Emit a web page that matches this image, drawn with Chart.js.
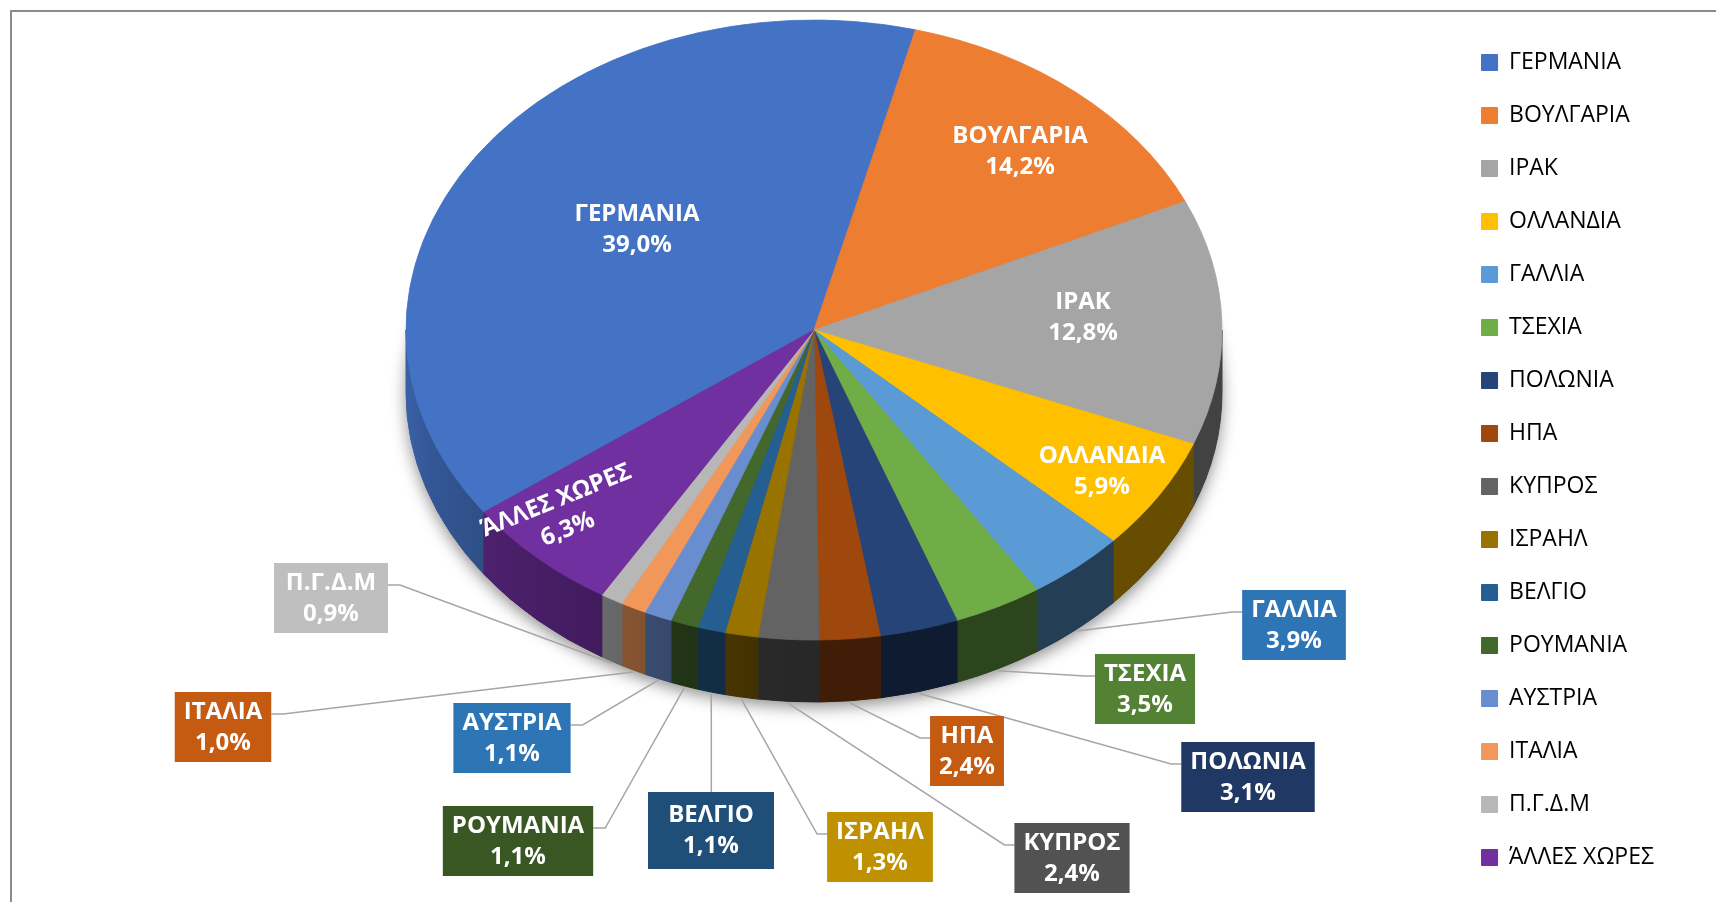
<!DOCTYPE html>
<html lang="el">
<head>
<meta charset="utf-8">
<title>Χώρες</title>
<script src="https://cdn.jsdelivr.net/npm/chart.js@4.4.1/dist/chart.umd.min.js"></script>
<style>
  html, body { margin: 0; padding: 0; background: #fff; }
  #wrap { width: 1716px; height: 902px; }
</style>
</head>
<body>
<div id="wrap"><canvas id="chart" width="1716" height="902"></canvas></div>
<script>
const countries = ['ΓΕΡΜΑΝΙΑ', 'ΒΟΥΛΓΑΡΙΑ', 'ΙΡΑΚ', 'ΟΛΛΑΝΔΙΑ', 'ΓΑΛΛΙΑ', 'ΤΣΕΧΙΑ', 'ΠΟΛΩΝΙΑ', 'ΗΠΑ',
  'ΚΥΠΡΟΣ', 'ΙΣΡΑΗΛ', 'ΒΕΛΓΙΟ', 'ΡΟΥΜΑΝΙΑ', 'ΑΥΣΤΡΙΑ', 'ΙΤΑΛΙΑ', 'Π.Γ.Δ.Μ', 'ΆΛΛΕΣ ΧΩΡΕΣ'];
const shares = [39.0, 14.2, 12.8, 5.9, 3.9, 3.5, 3.1, 2.4, 2.4, 1.3, 1.1, 1.1, 1.1, 1.0, 0.9, 6.3];

const sliceColors = ['#4472C4', '#ED7D31', '#A5A5A5', '#FFC000', '#5B9BD5', '#70AD47', '#264478', '#9E480E',
  '#636363', '#997300', '#255E91', '#43682B', '#698ED0', '#F1975A', '#B7B7B7', '#7030A0'];
const boxColors = [null, null, null, null, '#2E75B6', '#548235', '#203864', '#C55A11',
  '#525252', '#BF9000', '#1F4E79', '#385723', '#2E75B6', '#C55A11', '#BFBFBF', null];

// where each data label sits: text centre inside the slice, or a callout box (centre x, top y, side the leader enters)
const labelSpots = [
  {x: 637, y: 230}, {x: 1020, y: 152}, {x: 1083, y: 318}, {x: 1102, y: 472},
  {box: true, x: 1294, y: 590, side: 'left'},
  {box: true, x: 1145, y: 654, side: 'left'},
  {box: true, x: 1248, y: 742, side: 'left'},
  {box: true, x: 967, y: 716, side: 'left'},
  {box: true, x: 1072, y: 823, side: 'left'},
  {box: true, x: 880, y: 812, side: 'left'},
  {box: true, x: 711, y: 792, side: 'top', w: 126, h: 77},
  {box: true, x: 518, y: 806, side: 'right'},
  {box: true, x: 512, y: 703, side: 'right'},
  {box: true, x: 223, y: 692, side: 'right'},
  {box: true, x: 331, y: 563, side: 'right', w: 114},
  {x: 562, y: 515, rot: -22}
];

// tilted disc
const CX = 814, CY = 330, RX = 408, RY = 310, DEPTH = 62;
const labelFont = 'bold 24px "Open Sans"';

function shade(hex, f) {
  const n = parseInt(hex.slice(1), 16);
  return 'rgb(' + Math.round((n >> 16 & 255) * f) + ',' + Math.round((n >> 8 & 255) * f) + ',' + Math.round((n & 255) * f) + ')';
}

// darker toward the front/right, lighter on the left side
function wallFactor(t) {
  const d = t * 180 / Math.PI;
  if (d <= 95) return 0.4;
  return 0.4 + 0.45 * Math.pow((d - 95) / 85, 0.8);
}

// parts of [s, e] that face the viewer (0..PI in canvas angles)
function frontParts(s, e) {
  const out = [];
  for (let k = -2; k <= 3; k++) {
    const base = 2 * Math.PI * k;
    const lo = Math.max(s, base), hi = Math.min(e, base + Math.PI);
    if (hi > lo) out.push([lo - base, hi - base]);
  }
  return out;
}

function pct(v) {
  return v.toFixed(1).replace('.', ',') + '%';
}

const pie3d = {
  id: 'pie3d',
  beforeDraw(chart) {
    const ctx = chart.ctx;
    ctx.save();
    ctx.strokeStyle = '#8c8c8c';
    ctx.lineWidth = 2;
    ctx.beginPath();
    ctx.moveTo(11, 902);
    ctx.lineTo(11, 11);
    ctx.lineTo(1716, 11);
    ctx.stroke();
    ctx.restore();
  },
  beforeDatasetsDraw(chart) {
    const ctx = chart.ctx;
    const arcs = chart.getDatasetMeta(0).data;

    ctx.save();
    ctx.shadowColor = 'rgba(0,0,0,0.45)';
    ctx.shadowBlur = 16;
    ctx.shadowOffsetY = 5;
    ctx.fillStyle = '#555';
    ctx.beginPath();
    ctx.ellipse(CX, CY + DEPTH, RX, RY, 0, 0, Math.PI * 2);
    ctx.fill();
    ctx.restore();

    arcs.forEach((arc, i) => {
      frontParts(arc.startAngle, arc.endAngle).forEach(([a, b]) => {
        const g = ctx.createLinearGradient(CX - RX, 0, CX + RX, 0);
        for (let k = 0; k <= 36; k++) {
          g.addColorStop(k / 36, shade(sliceColors[i], wallFactor(Math.acos(-1 + 2 * k / 36))));
        }
        ctx.fillStyle = g;
        ctx.strokeStyle = g;
        ctx.lineWidth = 1;
        ctx.beginPath();
        ctx.ellipse(CX, CY, RX, RY, 0, a, b, false);
        ctx.ellipse(CX, CY + DEPTH, RX, RY, 0, b, a, true);
        ctx.closePath();
        ctx.fill();
        ctx.stroke();
      });
    });

    // squash the library's round pie onto the top of the disc
    const {x, y, outerRadius} = arcs[0];
    ctx.save();
    ctx.translate(CX, CY);
    ctx.scale(RX / outerRadius, RY / outerRadius);
    ctx.translate(-x, -y);
  },
  afterDatasetsDraw(chart) {
    const ctx = chart.ctx;
    ctx.restore();
    const arcs = chart.getDatasetMeta(0).data;

    ctx.save();
    ctx.font = labelFont;
    ctx.textAlign = 'center';
    ctx.textBaseline = 'middle';
    arcs.forEach((arc, i) => {
      const spot = labelSpots[i];
      const line1 = countries[i], line2 = pct(shares[i]);
      if (!spot.box) {
        ctx.fillStyle = '#fff';
        ctx.save();
        ctx.translate(spot.x, spot.y);
        if (spot.rot) ctx.rotate(spot.rot * Math.PI / 180);
        ctx.fillText(line1, 0, -15.5);
        ctx.fillText(line2, 0, 15.5);
        ctx.restore();
        return;
      }
      const w = spot.w || Math.max(ctx.measureText(line1).width, ctx.measureText(line2).width) + 18;
      const h = spot.h || 70;
      const left = spot.x - w / 2, top = spot.y;
      const mid = (arc.startAngle + arc.endAngle) / 2;
      const ax = CX + RX * Math.cos(mid), ay = CY + DEPTH + RY * Math.sin(mid) + 2;

      ctx.strokeStyle = '#a6a6a6';
      ctx.lineWidth = 1.5;
      ctx.beginPath();
      ctx.moveTo(ax, ay);
      if (spot.side === 'left') {
        ctx.lineTo(left - 10, top + 22);
        ctx.lineTo(left, top + 22);
      } else if (spot.side === 'right') {
        ctx.lineTo(left + w + 12, top + 22);
        ctx.lineTo(left + w, top + 22);
      } else {
        ctx.lineTo(ax, top);
      }
      ctx.stroke();

      const dy = (h - 70) / 2;
      ctx.fillStyle = boxColors[i];
      ctx.fillRect(left, top, w, h);
      ctx.fillStyle = '#fff';
      ctx.fillText(line1, spot.x, top + 20 + dy);
      ctx.fillText(line2, spot.x, top + 51 + dy);
    });
    ctx.restore();
  }
};

new Chart(document.getElementById('chart'), {
  type: 'pie',
  data: {
    labels: countries,
    datasets: [{
      data: shares,
      backgroundColor: sliceColors,
      borderColor: sliceColors,
      borderWidth: 1,
      clip: false
    }]
  },
  options: {
    responsive: false,
    animation: false,
    events: [],
    rotation: 234,
    layout: { padding: { top: 21, right: 52, bottom: 0, left: 0 } },
    plugins: {
      tooltip: { enabled: false },
      legend: {
        position: 'right',
        align: 'start',
        labels: {
          boxWidth: 16,
          boxHeight: 16,
          padding: 30,
          color: '#000',
          font: { family: 'Open Sans', size: 23 }
        }
      }
    }
  },
  plugins: [pie3d]
});
</script>
</body>
</html>
